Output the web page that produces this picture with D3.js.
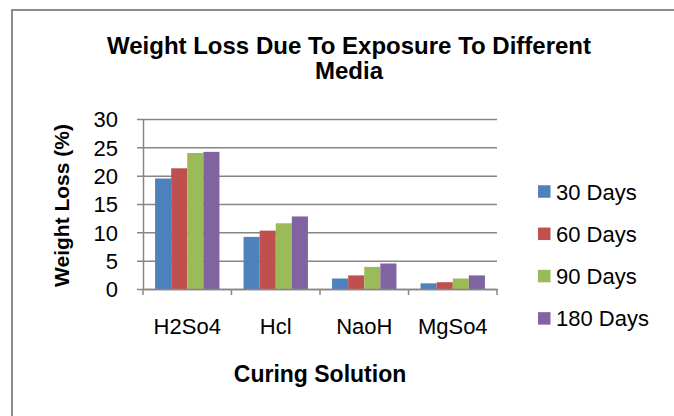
<!DOCTYPE html>
<html>
<head>
<meta charset="utf-8">
<script src="https://cdn.jsdelivr.net/npm/d3@7"></script>
<style>
  html, body { margin: 0; padding: 0; background: #fff; }
  svg { display: block; font-family: "Liberation Sans", Arial, sans-serif; }
</style>
</head>
<body>
<svg id="chart" width="674" height="416"></svg>
<script>
// Curing solutions and weight loss (%) after each exposure period
const categories = ["H2So4", "Hcl", "NaoH", "MgSo4"];
const seriesNames = ["30 Days", "60 Days", "90 Days", "180 Days"];
const days30  = [19.5, 9.2, 1.85, 1.0];
const days60  = [21.3, 10.3, 2.4, 1.2];
const days90  = [24.0, 11.6, 3.9, 1.85];
const days180 = [24.2, 12.8, 4.5, 2.4];
const yTicks = [0, 5, 10, 15, 20, 25, 30];
const colors = ["#4F81BD", "#C0504D", "#9BBB59", "#8064A2"];

const seriesValues = [days30, days60, days90, days180];

const svg = d3.select("#chart");

// outer chart frame
svg.append("rect")
  .attr("x", 12).attr("y", 10)
  .attr("width", 700).attr("height", 440)
  .attr("fill", "#fff")
  .attr("stroke", "#8c8c8c")
  .attr("stroke-width", 2);

const plot = { left: 143, right: 497, top: 119, bottom: 289 };

const x = d3.scaleBand()
  .domain(categories)
  .range([plot.left, plot.right])
  .paddingInner(0).paddingOuter(0);

// four bars per group with a gap of 1.5 bar widths between groups
const barW = x.bandwidth() / (seriesNames.length + 1.5);
const xInner = d3.scaleBand()
  .domain(seriesNames)
  .range([0.75 * barW, 0.75 * barW + barW * seriesNames.length]);

const y = d3.scaleLinear().domain([0, 30]).range([plot.bottom, plot.top]);

// horizontal gridlines with outer tick marks
const yAxis = d3.axisLeft(y)
  .tickValues(yTicks)
  .tickSize(-(plot.right - plot.left))
  .tickSizeOuter(0)
  .tickFormat(d3.format("d"));

const gy = svg.append("g")
  .attr("transform", `translate(${plot.left},0)`)
  .call(yAxis);
gy.select(".domain").attr("stroke", "#868686").attr("stroke-width", 1.5);
gy.selectAll(".tick line")
  .attr("x1", -6)
  .attr("stroke", "#868686").attr("stroke-width", 1.5);
gy.selectAll(".tick text")
  .attr("font-size", 22).attr("fill", "#000")
  .attr("font-family", "Liberation Sans, Arial, sans-serif")
  .attr("x", -25)
  .attr("dy", "0.36em");

// bars
const groups = svg.append("g").selectAll("g")
  .data(categories)
  .join("g")
  .attr("transform", d => `translate(${x(d)},0)`);

groups.selectAll("rect")
  .data((c, i) => seriesNames.map((s, k) => ({ s, k, v: seriesValues[k][i] })))
  .join("rect")
  .attr("x", d => xInner(d.s))
  .attr("width", xInner.bandwidth())
  .attr("y", d => y(d.v))
  .attr("height", d => y(0) - y(d.v))
  .attr("fill", d => colors[d.k]);

// category axis
const xAxis = d3.axisBottom(x).tickSize(0).tickPadding(0);
const gx = svg.append("g")
  .attr("transform", `translate(0,${plot.bottom})`)
  .call(xAxis);
gx.select(".domain").attr("stroke", "#868686").attr("stroke-width", 1.5);
gx.selectAll(".tick text")
  .attr("font-size", 22).attr("fill", "#000")
  .attr("font-family", "Liberation Sans, Arial, sans-serif")
  .attr("y", 45).attr("dy", null);

// tick marks between categories
const boundaries = categories.map(c => x(c)).concat([plot.right]);
svg.append("g").selectAll("line")
  .data(boundaries)
  .join("line")
  .attr("x1", d => d).attr("x2", d => d)
  .attr("y1", plot.bottom).attr("y2", plot.bottom + 6)
  .attr("stroke", "#868686").attr("stroke-width", 1.5);

// title
const title = svg.append("text")
  .attr("text-anchor", "middle")
  .attr("font-size", 24).attr("font-weight", "bold");
title.append("tspan").attr("x", 349).attr("y", 54).text("Weight Loss Due To Exposure To Different");
title.append("tspan").attr("x", 349).attr("y", 79).text("Media");

// axis titles
svg.append("text")
  .attr("x", 320).attr("y", 382)
  .attr("text-anchor", "middle")
  .attr("font-size", 23).attr("font-weight", "bold")
  .text("Curing Solution");

svg.append("text")
  .attr("transform", "translate(69,205.5) rotate(-90)")
  .attr("text-anchor", "middle")
  .attr("font-size", 21).attr("font-weight", "bold")
  .text("Weight Loss (%)");

// legend
const legend = svg.append("g").selectAll("g")
  .data(seriesNames)
  .join("g")
  .attr("transform", (d, i) => `translate(538,${191.5 + i * 42.3})`);
legend.append("rect")
  .attr("x", 0).attr("y", -6.25)
  .attr("width", 12.5).attr("height", 12.5)
  .attr("fill", (d, i) => colors[i]);
legend.append("text")
  .attr("x", 18).attr("y", 8)
  .attr("font-size", 22)
  .text(d => d);
</script>
</body>
</html>
